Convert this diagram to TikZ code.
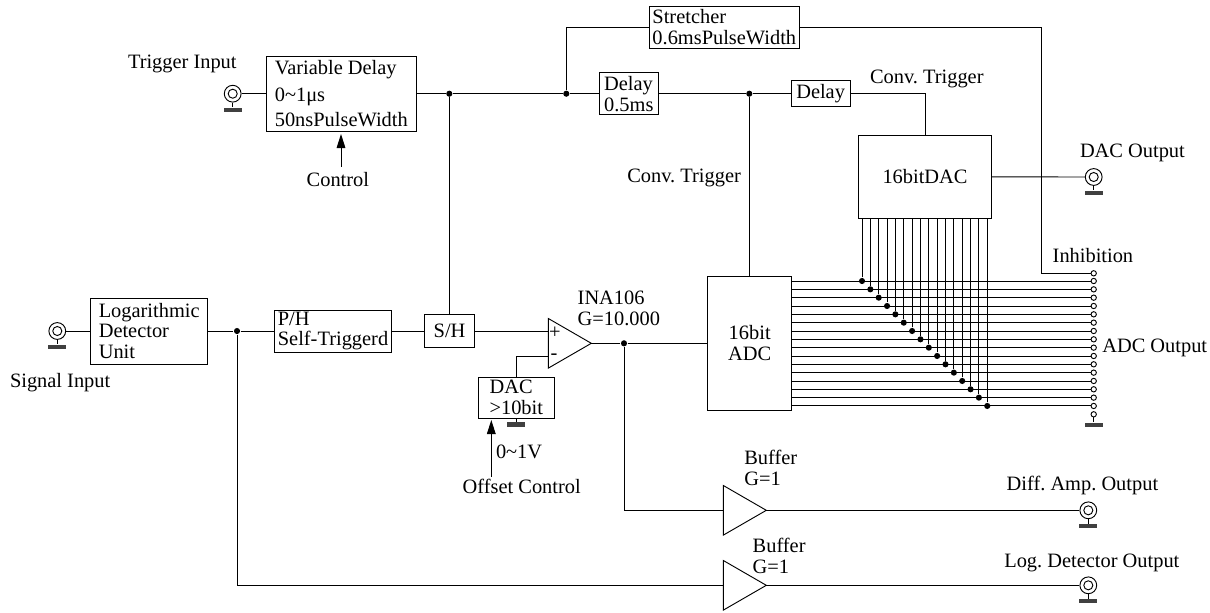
\documentclass[tikz,border=0pt]{standalone}
\usepackage{fontspec}
\setmainfont{Liberation Serif}
\usetikzlibrary{arrows.meta, positioning, shapes.geometric}
\frenchspacing

\begin{document}
\begin{tikzpicture}[
          x=0.75pt, y=-0.75pt, line width=0.7pt,
          font=\fontsize{15.3}{15.6}\selectfont,
          box/.style 2 args={draw, minimum width=#1, minimum height=#2, inner sep=0pt,
                    outer sep=0pt, align=left},
          lab/.style={inner sep=0pt, outer sep=0pt, anchor=west, align=left},
          dot/.style={circle, fill, inner sep=0pt, minimum size=4.6pt},
          term/.style={circle, draw, fill=white, inner sep=0pt, minimum size=4pt},
          bnc/.style={circle, draw, inner sep=0pt, minimum size=12.6pt,
                    path picture={\draw (path picture bounding box.center) circle (3.4pt);}},
          gnd/.style={fill=black!75, inner sep=0pt, minimum width=13.5pt, minimum height=3.2pt},
          amp/.style={isosceles triangle, isosceles triangle apex angle=60, draw, inner sep=0pt,
                    outer sep=0pt, minimum height=32.25pt, anchor=lower side},
          >={Stealth[length=10.5pt, width=6.5pt, inset=0pt]}]
        \useasboundingbox (0,0) rectangle (1210,612);

        \node[box={113pt}{56.5pt}] (vdelay) at (341.3,93.7) {Variable Delay\\[4.6pt]0\textasciitilde1μs\\[3.2pt]50nsPulseWidth};
        \node[box={44.25pt}{31.5pt}, right=137pt of vdelay] (delaya) {\raisebox{-1.4pt}{Delay}\\\raisebox{-1.4pt}{0.5ms}};
        \node[box={44pt}{19.2pt}, right=99.75pt of delaya] (delayb) {Delay};
        \node[box={112.5pt}{31.5pt}] (stretch) at (724.3,27) {Stretcher\\0.6msPulseWidth};
        \node[box={100pt}{62.25pt}] (dach) at (925,176.8) {16bitDAC};
        \node[box={63pt}{100pt}, align=center] (adc) at (749.7,343.35) {16bit\\ADC};
        \node[box={87.75pt}{49.5pt}] (logdet) at (149.2,331) {Logarithmic\\Detector\\Unit};
        \node[box={88pt}{31.5pt}, right=50pt of logdet] (ph) {P/H\\Self-Triggerd};
        \node[box={37.8pt}{25pt}, right=24.5pt of ph] (sh) {S/H};
        \node[box={56.5pt}{31pt}] (dacb) at (516.3,397.7) {DAC\\>10bit};

        \node[amp] (ina) at (548.3,343.3) {};
        \node[amp] (bufa) at (723.3,510.3) {};
        \node[amp] (bufb) at (723.3,585.3) {};

        \node[bnc] (trig) at (232.7,93.7) {};
        \node[bnc] (sig) at (57.3,331) {};
        \node[bnc] (dacout) at (1093.7,177) {};
        \node[bnc] (diffout) at (1088.3,510.3) {};
        \node[bnc] (logout) at (1088.3,585.3) {};

        \node[dot] (ja) at (449.3,93.7) {};
        \node[dot] (jb) at (566.3,93.7) {};
        \node[dot] (jc) at (749.3,93.7) {};
        \node[dot] (jd) at (237,331) {};
        \node[dot] (je) at (624,343.3) {};

        \node[term] (inh) at (1093.7,273.3) {};
        \node[term] (oend) at (1093.7,414.3) {};
        \coordinate (inhc) at (1041.7,273.3);

        \node[lab] (ltrig) at (128,64) {Trigger Input};
        \node[lab] (lsig) at (10,382.7) {Signal Input};
        \node[lab] (lctrl) at (306.7,180) {Control};
        \node[lab] (lconva) at (870,79) {Conv. Trigger};
        \node[lab] (lconvb) at (627.3,178) {Conv. Trigger};
        \node[lab] (ldac) at (1080,152.7) {DAC Output};
        \node[lab] (linh) at (1052.7,255.7) {Inhibition};
        \node[lab] (ladc) at (1102.3,347.7) {ADC Output};
        \node[lab] (lina) at (577.7,308.6) {INA106\\G=10.000};
        \node[lab] (lvolt) at (496,451.7) {0\textasciitilde1V};
        \node[lab] (loff) at (462.7,486.7) {Offset Control};
        \node[lab] (lbufa) at (744.3,468) {Buffer\\G=1};
        \node[lab] (lbufb) at (752.7,556.3) {Buffer\\G=1};
        \node[lab] (ldiff) at (1006.7,485.7) {Diff. Amp. Output};
        \node[lab] (llog) at (1004.3,563.3) {Log. Detector Output};
        \node[lab] (lplus) at (549,332.7) {+};
        \node[lab] (lminus) at (550.5,357) {-};

        \foreach \j in {trig,sig,dacout,diffout,logout}{
          \node[gnd, below=3.4pt of \j] (\j g) {};
          \draw (\j) -- (\j g);
        }
        \node[gnd, below=2.6pt of dacb] (dacbg) {};
        \draw (dacb) -- (dacbg);
        \node[gnd, below=3.6pt of oend] (oendg) {};
        \draw (oend) -- (oendg);

        \draw (trig) -- (vdelay);
        \draw (vdelay) -- (ja) -- (jb) -- (delaya);
        \draw (delaya) -- (jc) -- (delayb);
        \draw (ja) -- (ja |- sh.north);
        \draw (jb) |- (stretch);
        \draw (stretch) -| (inhc) -- (inh);
        \draw (delayb) -| (dach);
        \draw (jc) -- (jc |- adc.north);
        \draw (dach) -- (dacout);
        \draw (sig) -- (logdet);
        \draw (logdet) -- (jd) -- (ph);
        \draw (ph) -- (sh);
        \draw (sh.east) -- (sh.east -| ina.lower side);
        \draw (ina.apex) -- (je) -- (adc.west |- je);
        \coordinate (minus) at (548.3,356.3);
        \coordinate (dacbin) at (516,377);
        \draw (minus) -| (dacbin);
        \draw (je) |- (bufa.lower side);
        \draw (jd) |- (bufb.lower side);
        \draw (bufa.apex) -- (diffout);
        \draw (bufb.apex) -- (logout);

        \coordinate (ctrltip) at (341,134);
        \coordinate (ctrlend) at (341,166.7);
        \draw[->] (ctrlend) -- (ctrltip);
        \coordinate (offtip) at (491.3,420);
        \coordinate (offend) at (491.3,476.7);
        \draw[->] (offend) -- (offtip);

        \foreach \i in {0,...,15}{
          \pgfmathsetmacro{\yy}{281+8.33*\i}
          \pgfmathsetmacro{\xx}{862+8.35*\i}
          \node[term] (o\i) at (1093.7,\yy) {};
          \node[dot] (k\i) at (\xx,\yy) {};
          \draw (adc.east |- o\i) -- (o\i);
          \draw (k\i) -- (k\i |- dach.south);
        }
\end{tikzpicture}
\end{document}
